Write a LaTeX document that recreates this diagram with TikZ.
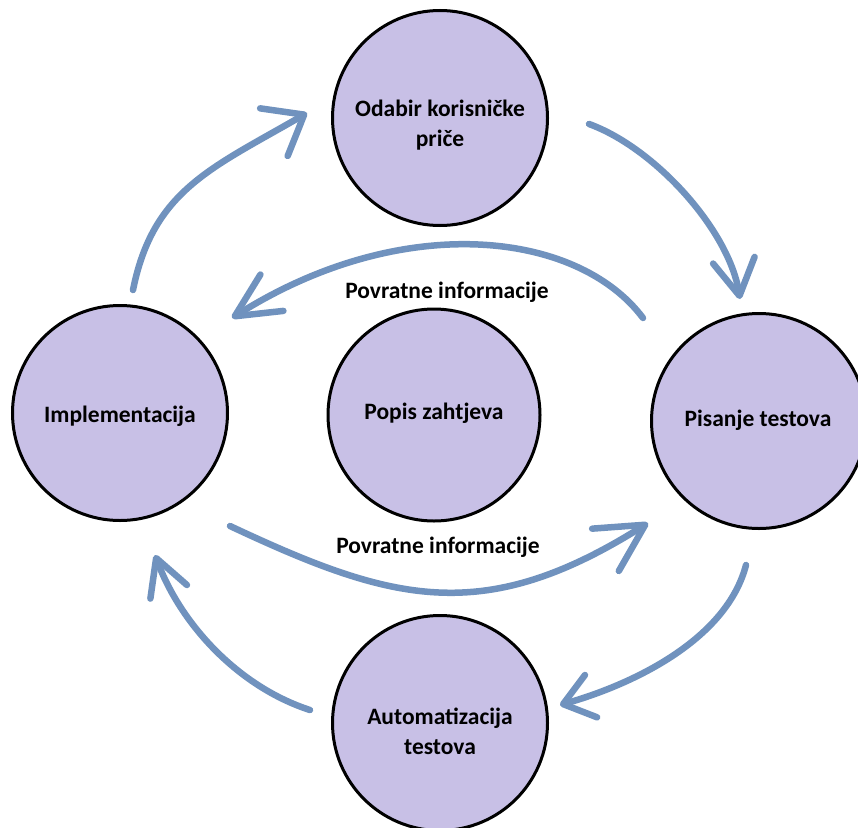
\documentclass[tikz,border=0pt]{standalone}
\usepackage{fontspec}
\setmainfont{Carlito}
\usetikzlibrary{arrows.meta}
\definecolor{arrowblue}{RGB}{112,146,190}
\definecolor{lav}{RGB}{200,192,230}
\begin{document}
\begin{tikzpicture}[x=1pt,y=-1pt,
  stage/.style={circle, draw=black, line width=3pt, fill=lav, minimum size=215pt, inner sep=0pt},
  lbl/.style={font=\bfseries\fontsize{23.5}{30}\selectfont, align=center, inner sep=0pt},
  flow/.style={draw=arrowblue, line width=6.5pt, line cap=round},
  tipa/.style 2 args={arrows={-Straight Barb[length=#1pt, width=#2pt, round]}}
]
\useasboundingbox (0,0) rectangle (858,827);
\clip (0,0) rectangle (858,827);
\fill[white] (0,0) rectangle (858,827);

% circles
\node[stage] (T) at (440,118) {};
\node[stage] (L) at (120,413) {};
\node[stage] (R) at (759,421) {};
\node[stage] (B) at (440,723) {};
\node[stage, minimum size=212pt] (C) at (434,415) {};

% labels
\node[lbl] (Tt) at (440,125) {Odabir korisničke\\priče};
\node[lbl] (Lt) at (120,416) {Implementacija};
\node[lbl] (Rt) at (758,420) {Pisanje testova};
\node[lbl] (Ct) at (434,413) {Popis zahtjeva};
\node[lbl] (Bt) at (440,731) {Automatizacija\\testova};
\node[lbl] (F1) at (447,292) {Povratne informacije};
\node[lbl] (F2) at (438,547) {Povratne informacije};

% connector end points
\coordinate (a1s) at (133,290); \coordinate (a1e) at (307,113);
\coordinate (a2s) at (589,124); \coordinate (a2e) at (740,299);
\coordinate (a3s) at (746,565); \coordinate (a3e) at (560,705);
\coordinate (a4s) at (310,710); \coordinate (a4e) at (155,555);
\coordinate (a5s) at (643,318); \coordinate (a5e) at (232,318);
\coordinate (a6s) at (230,526); \coordinate (a6e) at (648,523);

\draw[flow, tipa={35}{55}] (a1s) .. controls (153,190) and (212,168) .. (a1e);
\draw[flow, tipa={36}{42}] (a2s) .. controls (655,148) and (729,230) .. (a2e);
\draw[flow, tipa={29}{44}] (a3s) .. controls (727,638) and (637,683) .. (a3e);
\draw[flow, tipa={36}{39}] (a4s) .. controls (239,687) and (181,625) .. (a4e);
\draw[flow, tipa={44}{43}] (a5s) .. controls (577,230) and (401,211) .. (a5e);
\draw[flow, tipa={47}{50}] (a6s) .. controls (392,602) and (483,627) .. (a6e);
\end{tikzpicture}
\end{document}
